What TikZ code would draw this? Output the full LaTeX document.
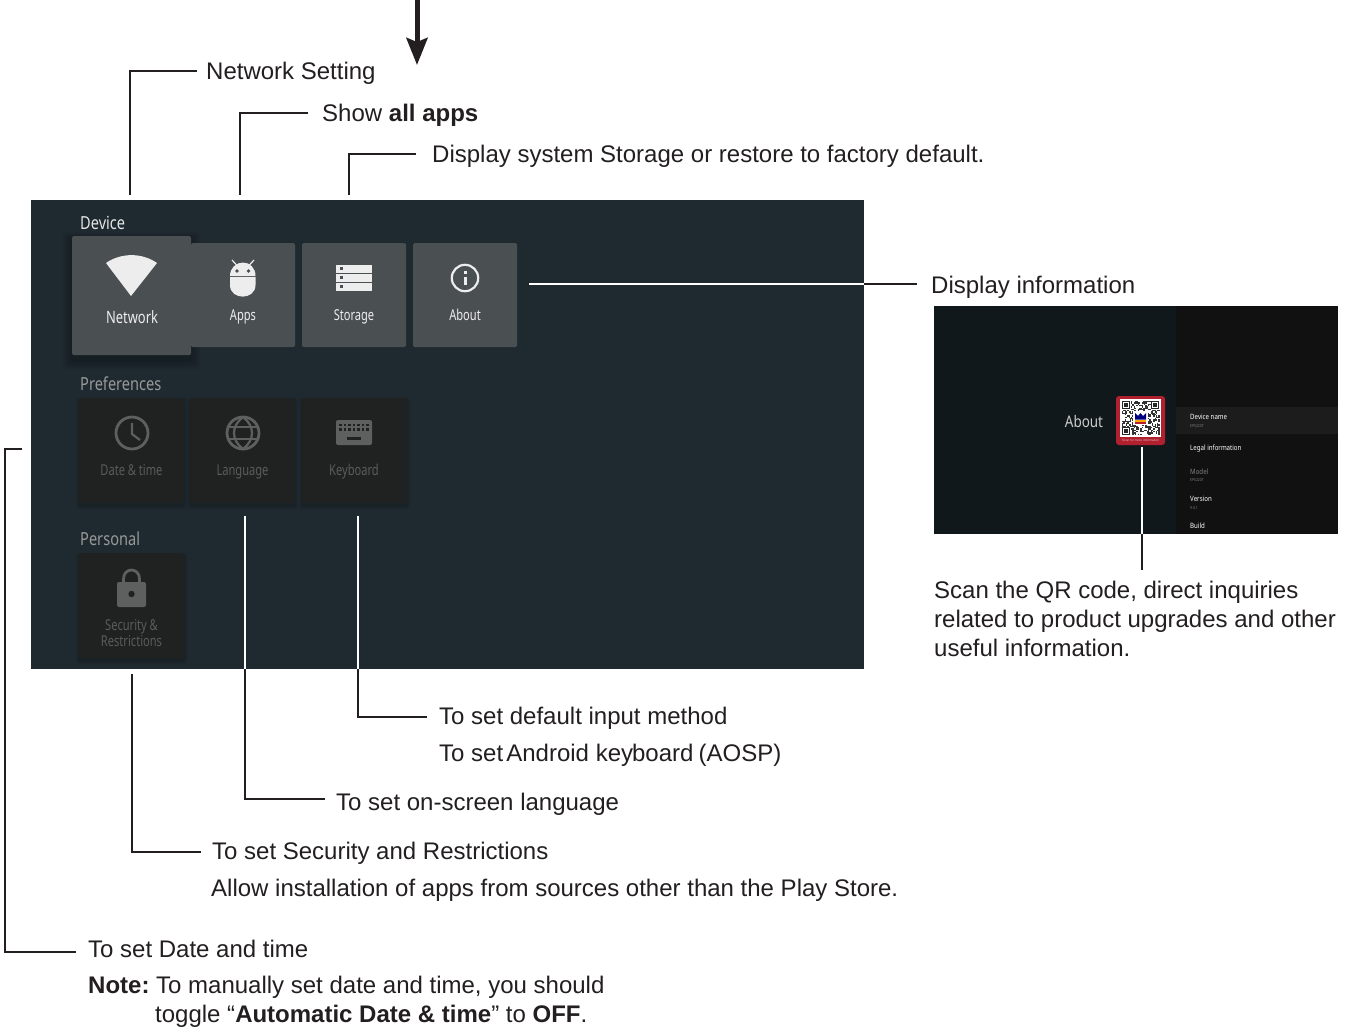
\documentclass[tikz,border=0pt]{standalone}
\usepackage{fontspec}
\setmainfont{Liberation Sans}
\newfontfamily\uifont[FakeStretch=0.74]{Noto Sans}
\newfontfamily\netfont[FakeStretch=0.76]{Noto Sans}
\newfontfamily\secfont[FakeStretch=0.81]{Noto Sans}
\newfontfamily\scrfont[FakeStretch=0.84]{Noto Sans}
\usetikzlibrary{arrows.meta,calc}
\definecolor{ink}{HTML}{231F20}
\definecolor{panel}{HTML}{1F2A30}
\definecolor{tilelight}{HTML}{4A4F52}
\definecolor{tiledark}{HTML}{202221}
\definecolor{icondark}{HTML}{5E5F5F}
\definecolor{textdark}{HTML}{5A5C5C}
\definecolor{iconlight}{HTML}{EDEDED}
\definecolor{qrred}{HTML}{B0202F}
\definecolor{scrleft}{HTML}{10181C}
\definecolor{scrright}{HTML}{111111}
\definecolor{scrrow}{HTML}{1C1C1C}
\tikzset{
  x=1pt,y=-1pt,
  lbl/.style={anchor=west,inner sep=0pt,text height=17pt,text depth=0pt,text=ink,font=\fontsize{24}{28}\selectfont},
  ln/.style={draw=ink,line width=1.4pt},
  wln/.style={draw=white,line width=1.6pt},
  tilel/.style={draw=none,fill=tilelight,rounded corners=1.5pt,inner sep=0pt,minimum width=104pt,minimum height=104pt},
  tiled/.style={draw=none,fill=tiledark,rounded corners=1.5pt,inner sep=0pt,minimum width=105pt,minimum height=105pt},
  tcap/.style={inner sep=0pt,anchor=base,font=\uifont\fontsize{15}{18}\selectfont},
  sect/.style={inner sep=0pt,anchor=base west,font=\secfont\fontsize{18}{20}\selectfont},
  abt/.style={inner sep=0pt,anchor=base west,text=white,font=\scrfont\bfseries\fontsize{7.3}{8}\selectfont},
  abs/.style={inner sep=0pt,anchor=base west,text=gray,font=\scrfont\fontsize{4}{5}\selectfont},
}
\begin{document}
\begin{tikzpicture}
\useasboundingbox (0,0) rectangle (1351,1029);
\fill[white] (0,0) rectangle (1351,1029);
% top arrow
\coordinate (arrTop) at (417,-1);
\coordinate (arrTip) at (417,65);
\draw[ink,line width=5pt,-{Stealth[length=27pt,width=21pt,inset=4pt]}] (arrTop) -- (arrTip);
% panel
\fill[panel] (31,200) rectangle (864,669);
\node[sect,text=white!90!black] (secDevice) at (80,229) {Device};
\node[sect,text=white!60!black] (secPref) at (80,390) {Preferences};
\node[sect,text=white!60!black] (secPers) at (80,545) {Personal};
% soft shadows
\foreach \e in {1,3,5,7,9} {
  \fill[black,opacity=.055,rounded corners=3pt] (72-\e,236-\e+5) rectangle (191+\e,355+\e+5);
}
\foreach \e in {1,2,3} {
  \foreach \a/\b/\c/\d in {79/398/184/503,190/398/295/503,302/398/407/503,79/553/184/658}
    \fill[black,opacity=.05,rounded corners=2pt] (\a-\e,\b-\e+3) rectangle (\c+\e,\d+\e+3);
}
% light tiles
\node[tilel] (tApps) at (243,295) {};
\node[tilel] (tStor) at (354,295) {};
\node[tilel] (tAbout) at (465,295) {};
\node[tilel,minimum width=119pt,minimum height=119pt] (tNet) at (131.5,295.5) {};
\node[tcap,text=iconlight,font=\netfont\fontsize{17}{18}\selectfont] (cNet) at (132,323) {Network};
\node[tcap,text=iconlight] (cApps) at (243,320) {Apps};
\node[tcap,text=iconlight] (cStor) at (354,320) {Storage};
\node[tcap,text=iconlight] (cAbout) at (465,320) {About};
% wifi icon
\fill[iconlight] (131,296) -- (106,263) .. controls (121,252.500) and (142,252.500) .. (157,263) -- cycle;
% android icon
\fill[iconlight] (230,276) .. controls (230,268) and (236,262.500) .. (243,262.500) .. controls (250,262.500) and (255.500,268) .. (255.500,276) -- cycle;
\fill[iconlight] (230,277.200) -- (255.500,277.200) -- (255.500,285) .. controls (255.500,300.500) and (230,300.500) .. (230,285) -- cycle;
\draw[iconlight,line width=1.2pt] (237,265.500) -- (232,260) (249,265.500) -- (254,260);
\fill[tilelight] (237,271) circle (1.8) (248.500,271) circle (1.8);
% storage icon
\foreach \y in {265,274,283} {
  \fill[iconlight] (336,\y) rectangle (372,\y+7.500);
  \fill[tilelight] (340,\y+2.200) rectangle (343,\y+5.300);
}
% about icon
\draw[iconlight,line width=2.2pt] (465,278) circle (13.200);
\fill[iconlight] (463.500,276.500) rectangle (466.500,285);
\fill[iconlight] (463.500,271) rectangle (466.500,274);
% dark tiles
\node[tiled] (tDate) at (131.5,450.5) {};
\node[tiled] (tLang) at (242.5,450.5) {};
\node[tiled] (tKey) at (354.5,450.5) {};
\node[tiled] (tSec) at (131.5,605.5) {};
\node[tcap,text=textdark] (cDate) at (131.5,475) {Date \& time};
\node[tcap,text=textdark] (cLang) at (242.5,475) {Language};
\node[tcap,text=textdark] (cKey) at (354,475) {Keyboard};
\node[tcap,text=textdark] (cSec) at (131.5,630) {Security \&};
\node[tcap,text=textdark] (cRes) at (131.5,646) {Restrictions};
% clock
\draw[icondark,line width=2.8pt] (132,433) circle (16);
\draw[icondark,line width=2.2pt] (132,423) -- (132,434) -- (140,440);
% globe
\draw[icondark,line width=2.8pt] (243,433) circle (16);
\draw[icondark,line width=2.2pt] (243,417) .. controls (231,426) and (231,440) .. (243,449) .. controls (255,440) and (255,426) .. (243,417);
\draw[icondark,line width=2.2pt] (228,427) -- (258,427) (228,439) -- (258,439);
% keyboard
\fill[icondark,rounded corners=2pt] (336,420) rectangle (372,445);
\foreach \y in {423.500,428} \foreach \x in {340.500,345,349.500,354,358.500,363,367.500}
  \fill[tiledark] (\x-1.300,\y) rectangle (\x+1.300,\y+2.600);
\fill[tiledark] (347,437) rectangle (361,440);
% lock
\fill[icondark,rounded corners=2pt] (117,582) rectangle (146,607);
\draw[icondark,line width=2.8pt] (123.500,582) -- (123.500,579) .. controls (123.500,567) and (139.500,567) .. (139.500,579) -- (139.500,582);
\fill[tiledark] (131.5,594) circle (3.200);
% about screenshot
\fill[scrleft] (934,306) rectangle (1176,534);
\fill[scrright] (1176,306) rectangle (1338,534);
\fill[scrrow] (1176,407) rectangle (1338,434);
\node[inner sep=0pt,text=white!80!black,font=\scrfont\fontsize{16}{18}\selectfont] (sAbout) at (1084,421) {About};
\fill[qrred,rounded corners=3pt] (1116,396) rectangle (1165,445);
\fill[white] (1120,399) rectangle (1161,436.500);
\pgfmathsetseed{42}
\foreach \i in {0,...,28} \foreach \j in {0,...,25} {
  \pgfmathrandominteger{\r}{0}{1}
  \ifnum\r=1 \fill[black!80] (1122+\i*1.300,401+\j*1.300) rectangle ++(1.300,1.300); \fi
}
\foreach \a/\b in {1122/401,1151/401,1122/427} {
  \fill[white] (\a-.5,\b-.5) rectangle ++(9,9);
  \fill[black!85] (\a,\b) rectangle ++(8,8);
  \fill[white] (\a+1.200,\b+1.200) rectangle ++(5.600,5.600);
  \fill[black!85] (\a+2.400,\b+2.400) rectangle ++(3.200,3.200);
}
\fill[white] (1133,411) rectangle (1148,425);
\fill[blue!50!black] (1135,413) -- (1135,419.500) -- (1146,419.500) -- (1146,413) -- (1143,416) -- (1140.5,413) -- (1138,416) -- cycle;
\fill[orange!70!yellow] (1135,419.500) rectangle (1146,422);
\fill[qrred] (1135,422) rectangle (1146,424);
\node[inner sep=0pt,text=white!65!qrred,font=\fontsize{3.2}{4}\selectfont] (sScan) at (1140.5,440) {Scan for more information};
\node[abt] (a1) at (1190,419.500) {Device name};
\node[abs] (a1s) at (1190,427) {EP5220T};
\node[abt] (a2) at (1190,450.500) {Legal information};
\node[abt,text=gray] (a3) at (1190,474) {Model};
\node[abs] (a3s) at (1190,481) {EP5220T};
\node[abt] (a4) at (1190,501.500) {Version};
\node[abs] (a4s) at (1190,509) {9.0.1};
\node[abt] (a5) at (1190,528.500) {Build};
% labels
\node[lbl] (lNet) at (206,71) {Network Setting};
\node[lbl] (lApps) at (322,113) {Show \textbf{all apps}};
\node[lbl] (lStor) at (432,154) {Display system Storage or restore to factory default.};
\node[lbl] (lInfo) at (931,285) {Display information};
\node[lbl] (lQr1) at (934,590) {Scan the QR code, direct inquiries};
\node[lbl] (lQr2) at (934,619) {related to product upgrades and other};
\node[lbl] (lQr3) at (934,648) {useful information.};
\node[lbl] (lKey1) at (439,716) {To set default input method};
\node[lbl] (lKey2) at (439,753) {To set \kern-3.5pt Android key\kern-1pt board \kern-1.5pt(AOSP)};
\node[lbl] (lLang) at (336,802) {To set on-screen language};
\node[lbl] (lSec1) at (212,851) {To set Security and Restrictions};
\node[lbl] (lSec2) at (211,888) {Allow installation of apps from sources other than the Play Store.};
\node[lbl] (lDate) at (88,949) {To set Date and time};
\node[lbl] (lNote) at (88,985) {\textbf{Note:}};
\node[lbl] (lNote1) at (156,985) {To manually set date and time, you should};
\node[lbl] (lNote2) at (155,1014) {toggle “\textbf{Automatic Date \& time}” to \textbf{OFF}.};
% connector ends
\coordinate (eNet) at (130,195);
\coordinate (eApps) at (240,195);
\coordinate (eStor) at (349,195);
\coordinate (eAbout) at (529,284);
\coordinate (ePanelR) at (864,284);
\coordinate (eLangTop) at (245,516);
\coordinate (eLangPan) at (245,669);
\coordinate (eKeyTop) at (358,516);
\coordinate (eKeyPan) at (358,669);
\coordinate (eSec) at (132,674);
\coordinate (eDate) at (22,449);
\coordinate (eQrTop) at (1142,447);
\coordinate (eQrMid) at (1142,534);
\coordinate (eQrEnd) at (1142,570);
% connectors
\draw[ln] (eNet) |- ([xshift=-9pt]lNet.west);
\draw[ln] (eApps) |- ([xshift=-14pt]lApps.west);
\draw[ln] (eStor) |- ([xshift=-16pt]lStor.west);
\draw[wln] (eAbout) -- (ePanelR);
\draw[ln] (ePanelR) -- ([xshift=-14pt,yshift=1pt]lInfo.west);
\draw[wln] (eLangTop) -- (eLangPan);
\draw[ln] (eLangPan) |- ([xshift=-11pt,yshift=3pt]lLang.west);
\draw[wln] (eKeyTop) -- (eKeyPan);
\draw[ln] (eKeyPan) |- ([xshift=-12pt,yshift=-1pt]lKey1.west);
\draw[ln] (eSec) |- ([xshift=-11pt,yshift=-1pt]lSec1.west);
\draw[ln] (eDate) -| (5,952) -- ([xshift=-12pt,yshift=-3pt]lDate.west);
\draw[wln] (eQrTop) -- (eQrMid);
\draw[ln] (eQrMid) -- (eQrEnd);
\end{tikzpicture}
\end{document}
